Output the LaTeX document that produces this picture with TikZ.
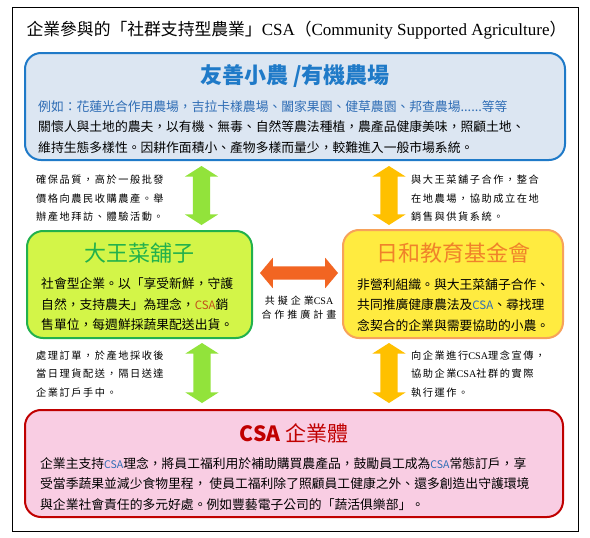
\documentclass[tikz,border=0pt]{standalone}
\usepackage{fontspec}
\setmainfont{Noto Sans CJK TC}
\newfontfamily\serifen{Liberation Serif}
\newfontfamily\annfont{Noto Sans CJK TC}[LetterSpace=15]
\newfontfamily\annwide{Noto Sans CJK TC}[LetterSpace=30]
\usetikzlibrary{shapes.arrows}

\definecolor{farmblue}{HTML}{1F7AC8}
\definecolor{farmfill}{HTML}{DCE6F2}
\definecolor{exblue}{HTML}{2F6DB5}
\definecolor{dwgreen}{HTML}{22B14C}
\definecolor{dwfill}{HTML}{D3F548}
\definecolor{rhborder}{HTML}{F7A25A}
\definecolor{rhtitle}{HTML}{F0822A}
\definecolor{rhfill}{HTML}{FFEB40}
\definecolor{csared}{HTML}{C00000}
\definecolor{csafill}{HTML}{F9CDE3}
\definecolor{arrgreen}{HTML}{92E33B}
\definecolor{arrgold}{HTML}{FFC000}
\definecolor{arrorange}{HTML}{F26522}
\definecolor{csabrown}{HTML}{C0501A}

\tikzset{
  box/.style={draw, rounded corners=16pt, line width=2pt, inner sep=0pt},
  boxtitle/.style={inner sep=0pt},
  body/.style={font=\fontsize{12.8}{20.5}\selectfont, align=left, anchor=west, inner sep=0pt},
  note/.style={font=\annfont\fontsize{10.2}{18.5}\selectfont, align=left, anchor=west, inner sep=0pt},
  biarrow/.style={double arrow, double arrow head extend=8pt, double arrow tip angle=115,
    minimum width=33pt, inner sep=0pt, draw=none},
}
% 箭頭桿的粗細
\newcommand{\shaft}[1]{\rule{0pt}{#1}}

\begin{document}
\begin{tikzpicture}[x=1pt, y=-1pt]
  \useasboundingbox (0,0) rectangle (590,538);
  \fill[white] (0,0) rectangle (590,538);
  \draw[line width=1pt] (12.5,7) rectangle (578,531);

  % 標題
  \node[inner sep=0pt] (title) at (296.5,30) {\fontsize{16.8}{20}\selectfont
    企業參與的「社群支持型農業」{\serifen\fontsize{17}{20}\selectfont CSA}（{\serifen\fontsize{17}{20}\selectfont Community Supported Agriculture}）};

  % 友善小農
  \node[box, draw=farmblue, fill=farmfill, minimum width=540pt, minimum height=107pt] (farm) at (295,106.5) {};
  \node[boxtitle, text=farmblue, font=\fontsize{22}{26}\selectfont\bfseries] (farmtitle) at (295,76) {友善小農 /有機農場};
  \node[body] (farmtext) at (38,127) {\textcolor{exblue}{例如：花蓮光合作用農場，吉拉卡樣農場、闔家果園、健草農園、邦查農場......等等}\\
    關懷人與土地的農夫，以有機、無毒、自然等農法種植，農產品健康美味，照顧土地、\\
    維持生態多樣性。因耕作面積小、產物多樣而量少，較難進入一般市場系統。};

  % 大王菜舖子
  \node[box, draw=dwgreen, fill=dwfill, minimum width=225pt, minimum height=107pt] (dawang) at (139.5,284.5) {};
  \node[boxtitle, text=dwgreen, font=\fontsize{22}{26}\selectfont] (dawangtitle) at (139.5,253) {大王菜舖子};
  \node[body] (dawangtext) at (41,304.5) {社會型企業。以「享受新鮮，守護\\
    自然，支持農夫」為理念，\textcolor{csabrown}{\fontsize{11.5}{12}\selectfont CSA}銷\\
    售單位，每週鮮採蔬果配送出貨。};

  % 日和教育基金會
  \node[box, draw=rhborder, fill=rhfill, minimum width=220pt, minimum height=108pt] (rihe) at (453,284) {};
  \node[boxtitle, text=rhtitle, font=\fontsize{22}{26}\selectfont] (rihetitle) at (453,253) {日和教育基金會};
  \node[body] (rihetext) at (357,305) {非營利組織。與大王菜舖子合作、\\
    共同推廣健康農法及\textcolor{exblue}{\fontsize{11.5}{12}\selectfont CSA}、尋找理\\
    念契合的企業與需要協助的小農。};

  % CSA企業體
  \node[box, draw=csared, fill=csafill, minimum width=538pt, minimum height=107pt] (corp) at (294,463.5) {};
  \node[boxtitle, text=csared, font=\fontsize{21}{26}\selectfont] (corptitle) at (294,433) {{\bfseries CSA} 企業體};
  \node[body] (corptext) at (40,484) {企業主支持\textcolor{exblue}{\fontsize{10.5}{12}\selectfont CSA}理念，將員工福利用於補助購買農產品，鼓勵員工成為\textcolor{exblue}{\fontsize{10.5}{12}\selectfont CSA}常態訂戶，享\\
    受當季蔬果並減少食物里程， 使員工福利除了照顧員工健康之外、還多創造出守護環境\\
    與企業社會責任的多元好處。例如豐藝電子公司的「蔬活俱樂部」。};

  % 雙向箭頭
  \node[biarrow, fill=arrgreen, rotate=90, minimum height=59pt] (upleft) at (201.5,195.5) {\shaft{17pt}};
  \node[biarrow, fill=arrgold, rotate=90, minimum height=59pt] (upright) at (389,195.5) {\shaft{17pt}};
  \node[biarrow, fill=arrgreen, rotate=90, minimum height=60pt] (downleft) at (202,373) {\shaft{17pt}};
  \node[biarrow, fill=arrgold, rotate=90, minimum height=60pt] (downright) at (389,373) {\shaft{17pt}};
  \node[biarrow, fill=arrorange, minimum width=30pt, double arrow head extend=8.5pt,
    double arrow tip angle=100, minimum height=78pt] (middle) at (299,273) {\shaft{13pt}};

  % 箭頭說明
  \node[note] (noteupleft) at (36,198.5) {確保品質，高於一般批發\\價格向農民收購農產。舉\\辦產地拜訪、體驗活動。};
  \node[note] (noteupright) at (411,198.5) {與大王菜舖子合作，整合\\在地農場，協助成立在地\\銷售與供貨系統。};
  \node[note] (notedownleft) at (36,374) {處理訂單，於產地採收後\\當日理貨配送，隔日送達\\企業訂戶手中。};
  \node[note] (notedownright) at (411,374) {向企業進行{\serifen CSA}理念宣傳，\\協助企業{\serifen CSA}社群的實際\\執行運作。};
  \node[inner sep=0pt, align=center, font=\annwide\fontsize{10}{13.5}\selectfont] (notemiddle) at (299,307.5) {共擬企業{\serifen CSA}\\合作推廣計畫};
\end{tikzpicture}
\end{document}
